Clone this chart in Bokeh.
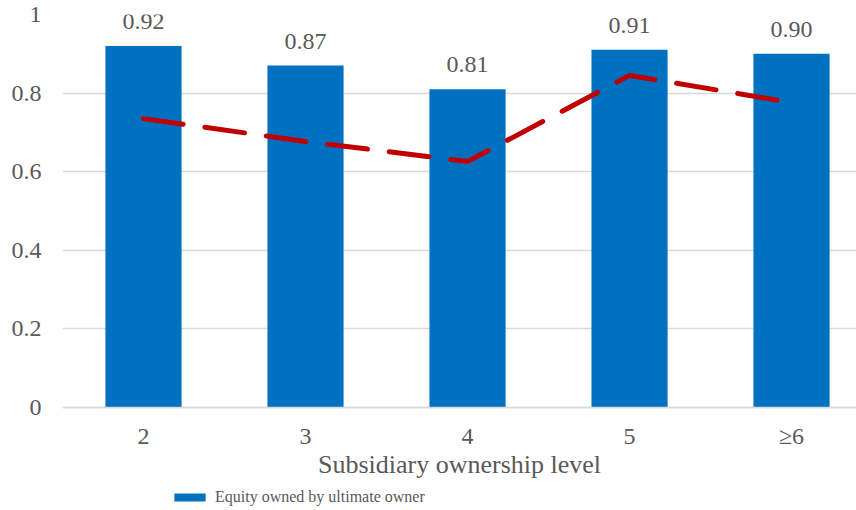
from bokeh.plotting import figure
from bokeh.models import ColumnDataSource, Legend, LegendItem, FixedTicker, LabelSet
from bokeh.embed import file_html
from bokeh.resources import INLINE

# Ownership level categories
levels = ["2", "3", "4", "5", "≥6"]
# Share of equity owned by the ultimate owner (bars)
equity_owned = [0.92, 0.87, 0.81, 0.91, 0.90]
# Comparison series drawn as a dashed line
dashed_series = [0.735, 0.677, 0.626, 0.845, 0.776]
y_ticks = [0, 0.2, 0.4, 0.6, 0.8, 1]

FONT = "Liberation Serif"
TEXT = "#595959"
BLUE = "#0070C0"
RED = "#C00000"

xpos = list(range(1, len(levels) + 1))
src = ColumnDataSource(dict(
    x=xpos,
    equity=equity_owned,
    dashed=dashed_series,
    label=[f"{v:.2f}" for v in equity_owned],
))

# The frame reaches the bottom of the canvas; the category axis is pinned at y=0
# so that the legend can sit underneath it.
p = figure(width=856, height=510, output_backend="svg", toolbar_location=None,
           x_range=(0.5, 5.401), y_range=(-0.2621, 1),
           min_border_left=62, min_border_right=0, min_border_top=14,
           min_border_bottom=0)
p.outline_line_color = None
p.background_fill_color = "white"
p.border_fill_color = "white"

bars = p.vbar(x="x", top="equity", width=0.47, source=src,
              fill_color=BLUE, line_color=None)
p.line(x="x", y="dashed", source=src, line_color=RED, line_width=5,
       line_dash="40 22", line_cap="round")

labels = LabelSet(x="x", y="equity", text="label", source=src,
                  text_align="center", text_baseline="bottom", y_offset=17,
                  text_font=FONT, text_font_size="24px", text_color=TEXT)
p.add_layout(labels)

# Axes
p.xaxis.fixed_location = 0
p.xaxis.ticker = FixedTicker(ticks=xpos)
p.xaxis.major_label_overrides = {x: lab for x, lab in zip(xpos, levels)}
p.xaxis.major_tick_line_color = None
p.xaxis.minor_tick_line_color = None
p.xaxis.axis_line_color = "#D9D9D9"
p.xaxis.axis_line_width = 1.5
p.xaxis.major_label_standoff = 10
p.xaxis.major_label_text_font = FONT
p.xaxis.major_label_text_font_size = "24px"
p.xaxis.major_label_text_color = TEXT
p.xaxis.axis_label = "Subsidiary ownership level"
p.xaxis.axis_label_text_font = FONT
p.xaxis.axis_label_text_font_size = "26px"
p.xaxis.axis_label_text_font_style = "normal"
p.xaxis.axis_label_text_color = TEXT
p.xaxis.axis_label_standoff = -3

p.yaxis.ticker = FixedTicker(ticks=y_ticks)
p.yaxis.major_label_overrides = {0: "0", 1: "1"}
p.yaxis.major_tick_line_color = None
p.yaxis.minor_tick_line_color = None
p.yaxis.axis_line_color = None
p.yaxis.major_label_standoff = 15
p.yaxis.major_label_text_font = FONT
p.yaxis.major_label_text_font_size = "24px"
p.yaxis.major_label_text_color = TEXT

p.xgrid.grid_line_color = None
p.ygrid.grid_line_color = "#D9D9D9"
p.ygrid.grid_line_width = 1.5

legend = Legend(items=[LegendItem(label="Equity owned by ultimate owner", renderers=[bars])],
                location=(108, 4), orientation="horizontal",
                glyph_width=39, glyph_height=10, label_standoff=6,
                padding=0, margin=0, spacing=0,
                border_line_color=None, background_fill_alpha=0,
                label_text_font=FONT, label_text_font_size="16px",
                label_text_color=TEXT)
p.add_layout(legend, "center")

open("out.html", "w").write(file_html(p, INLINE))
